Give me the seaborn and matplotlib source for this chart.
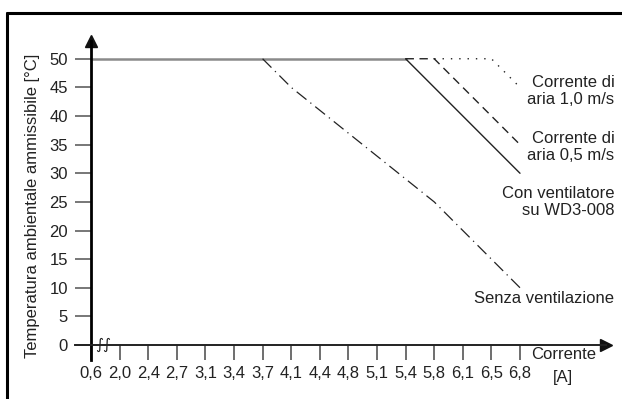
import matplotlib
matplotlib.use("Agg")
import matplotlib.pyplot as plt
import seaborn as sns
import pandas as pd
from matplotlib.lines import Line2D

# x axis: current ticks (equally spaced, with a break after 0.6)
current_ticks = ["0,6", "2,0", "2,4", "2,7", "3,1", "3,4", "3,7", "4,1",
                 "4,4", "4,8", "5,1", "5,4", "5,8", "6,1", "6,5", "6,8"]
temp_ticks = list(range(0, 55, 5))

# derating curves (current label, temperature)
plateau_x = ["0,6", "5,4"]
plateau_y = [50, 50]
fan_x = ["5,4", "6,8"]
fan_y = [50, 30]
air05_x = ["5,4", "5,8", "6,8"]
air05_y = [50, 50, 35]
air10_x = ["5,8", "6,5", "6,8"]
air10_y = [50, 50, 45]
noventil_x = ["3,7", "4,1", "5,8", "6,8"]
noventil_y = [50, 45, 25, 10]

labels = {
    "air10": ("Corrente di\naria 1,0 m/s", 44.4),
    "air05": ("Corrente di\naria 0,5 m/s", 34.6),
    "fan": ("Con ventilatore\nsu WD3-008", 25.0),
    "noventil": ("Senza ventilazione", 8.2),
}


def to_frame(xs, ys):
    return pd.DataFrame({"pos": [current_ticks.index(x) for x in xs], "temp": ys})


sns.set_theme(style="white")
plt.rcParams["font.family"] = ["Liberation Sans", "DejaVu Sans"]
fs = 12
plt.rcParams["font.size"] = fs

fig = plt.figure(figsize=(6.22, 3.99), dpi=100)
ax = fig.add_axes([74.7 / 622, 1 - 359.9 / 399, (605.8 - 74.7) / 622, (359.9 - 41) / 399])

ink = "#222222"
sns.lineplot(data=to_frame(plateau_x, plateau_y), x="pos", y="temp", ax=ax,
             color="#8a8a8a", lw=1.8)
sns.lineplot(data=to_frame(fan_x, fan_y), x="pos", y="temp", ax=ax,
             color=ink, lw=1.0)
sns.lineplot(data=to_frame(air05_x, air05_y), x="pos", y="temp", ax=ax,
             color=ink, lw=1.0, linestyle=(0, (6, 4)))
sns.lineplot(data=to_frame(air10_x, air10_y), x="pos", y="temp", ax=ax,
             color=ink, lw=1.0, linestyle=(0, (1, 5)))
sns.lineplot(data=to_frame(noventil_x, noventil_y), x="pos", y="temp", ax=ax,
             color=ink, lw=0.9, linestyle=(0, (10, 4, 1, 4)))

ax.set_xlim(-0.57, 18.0)
ax.set_ylim(-2.6, 53.1)

for s in ["top", "right"]:
    ax.spines[s].set_visible(False)
ax.spines["left"].set_position(("data", 0))
ax.spines["bottom"].set_position(("data", 0))
ax.spines["left"].set_color("black")
ax.spines["left"].set_linewidth(2.0)
ax.spines["bottom"].set_color("#222222")
ax.spines["bottom"].set_linewidth(1.4)

# arrow heads
ax.plot(1, 0, ">", color="#111111", ms=9, transform=ax.get_yaxis_transform(), clip_on=False)
ax.plot(0, 1, "^", color="#111111", ms=9, transform=ax.get_xaxis_transform(), clip_on=False)

ax.set_xticks(range(len(current_ticks)))
ax.set_xticklabels(current_ticks, fontsize=fs, color=ink)
ax.set_yticks(temp_ticks)
ax.set_yticklabels([str(t) for t in temp_ticks], fontsize=fs, color=ink)
ax.tick_params(axis="x", direction="out", length=11, width=1.2, color="#555555", pad=4, bottom=True)
ax.tick_params(axis="y", direction="out", length=11.5, width=1.4, color="#777777", pad=5, left=True)
ax.set_xlabel("")
ax.set_ylabel("")

# axis break mark
ax.text(0.42, 0.1, "\u222b\u222b", ha="center", va="center", fontsize=11,
        family="DejaVu Sans", color=ink)

# curve labels
for key, (txt, ypos) in labels.items():
    ax.text(18.3, ypos, txt, ha="right", va="center", ma="right",
            color=ink, clip_on=False, linespacing=1.2)

ax.text(17.66, -1.6, "Corrente", ha="right", va="center", color=ink, clip_on=False)
ax.text(16.5, -5.6, "[A]", ha="center", va="center", color=ink, clip_on=False)

fig.text(33 / 622, 1 - 206 / 399, "Temperatura ambientale ammissibile [°C]",
         rotation=90, ha="center", va="center", fontsize=fs, color=ink)

# frame around the figure (only top and left edges are visible)
fx, fy = 7.5 / 622, 1 - 12.5 / 399
fig.add_artist(Line2D([fx, 1.0], [fy, fy], color="black", lw=2.2, transform=fig.transFigure))
fig.add_artist(Line2D([fx, fx], [0.0, fy], color="black", lw=2.2, transform=fig.transFigure))

fig.savefig("out.png", dpi=100)
